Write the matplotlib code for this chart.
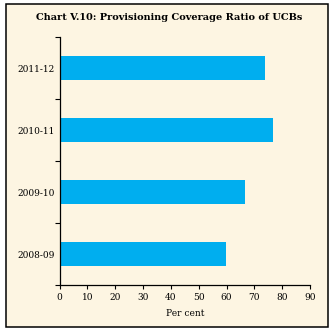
import matplotlib.pyplot as plt
from matplotlib.patches import Rectangle

# data
years = ['2008-09', '2009-10', '2010-11', '2011-12']
coverage = [59.9, 66.7, 76.7, 73.7]
xticks = [0, 10, 20, 30, 40, 50, 60, 70, 80, 90]

W, H = 335, 331
bg = '#fdf5e2'
bar_col = '#00aeef'
font = 'DejaVu Serif'

fig = plt.figure(figsize=(W / 100, H / 100), dpi=100)
fig.patch.set_facecolor('white')

# beige panel with black frame, kept behind the axes
fig.patches.append(Rectangle((6 / W, 1 - 327 / H), 322 / W, 323 / H,
                             transform=fig.transFigure, facecolor=bg,
                             edgecolor='black', linewidth=1.1, zorder=-5))

ax = fig.add_axes([59.5 / W, 1 - 285 / H, 250.5 / W, 248 / H])
ax.set_zorder(1)
ax.set_facecolor('none')

pos = list(range(len(years)))
ax.barh(pos, coverage, height=0.4, color=bar_col, zorder=2)

ax.set_xlim(0, 90)
ax.set_ylim(-0.5, len(years) - 0.5)
ax.set_xticks(xticks)
ax.set_xticklabels([str(t) for t in xticks], fontsize=6.5, family=font)
ax.set_yticks(pos)
ax.set_yticklabels(years, fontsize=6.5, family=font)
ax.tick_params(axis='y', which='major', length=0, pad=3.5)
ax.set_yticks([p + 0.5 for p in pos[:-1]] + [-0.5, len(years) - 0.5], minor=True)
ax.tick_params(axis='y', which='minor', length=3.5, width=0.8)
ax.tick_params(axis='x', length=3, width=0.8, pad=3)

for s in ['top', 'right']:
    ax.spines[s].set_visible(False)
for s in ['left', 'bottom']:
    ax.spines[s].set_linewidth(0.9)

ax.set_xlabel('Per cent', fontsize=6.5, family=font, labelpad=5)

fig.text(0.505, 1 - 17 / H, 'Chart V.10: Provisioning Coverage Ratio of UCBs',
         ha='center', va='center', fontsize=7, fontweight='bold', family=font)

fig.savefig('out.png', dpi=100, facecolor=fig.get_facecolor())
